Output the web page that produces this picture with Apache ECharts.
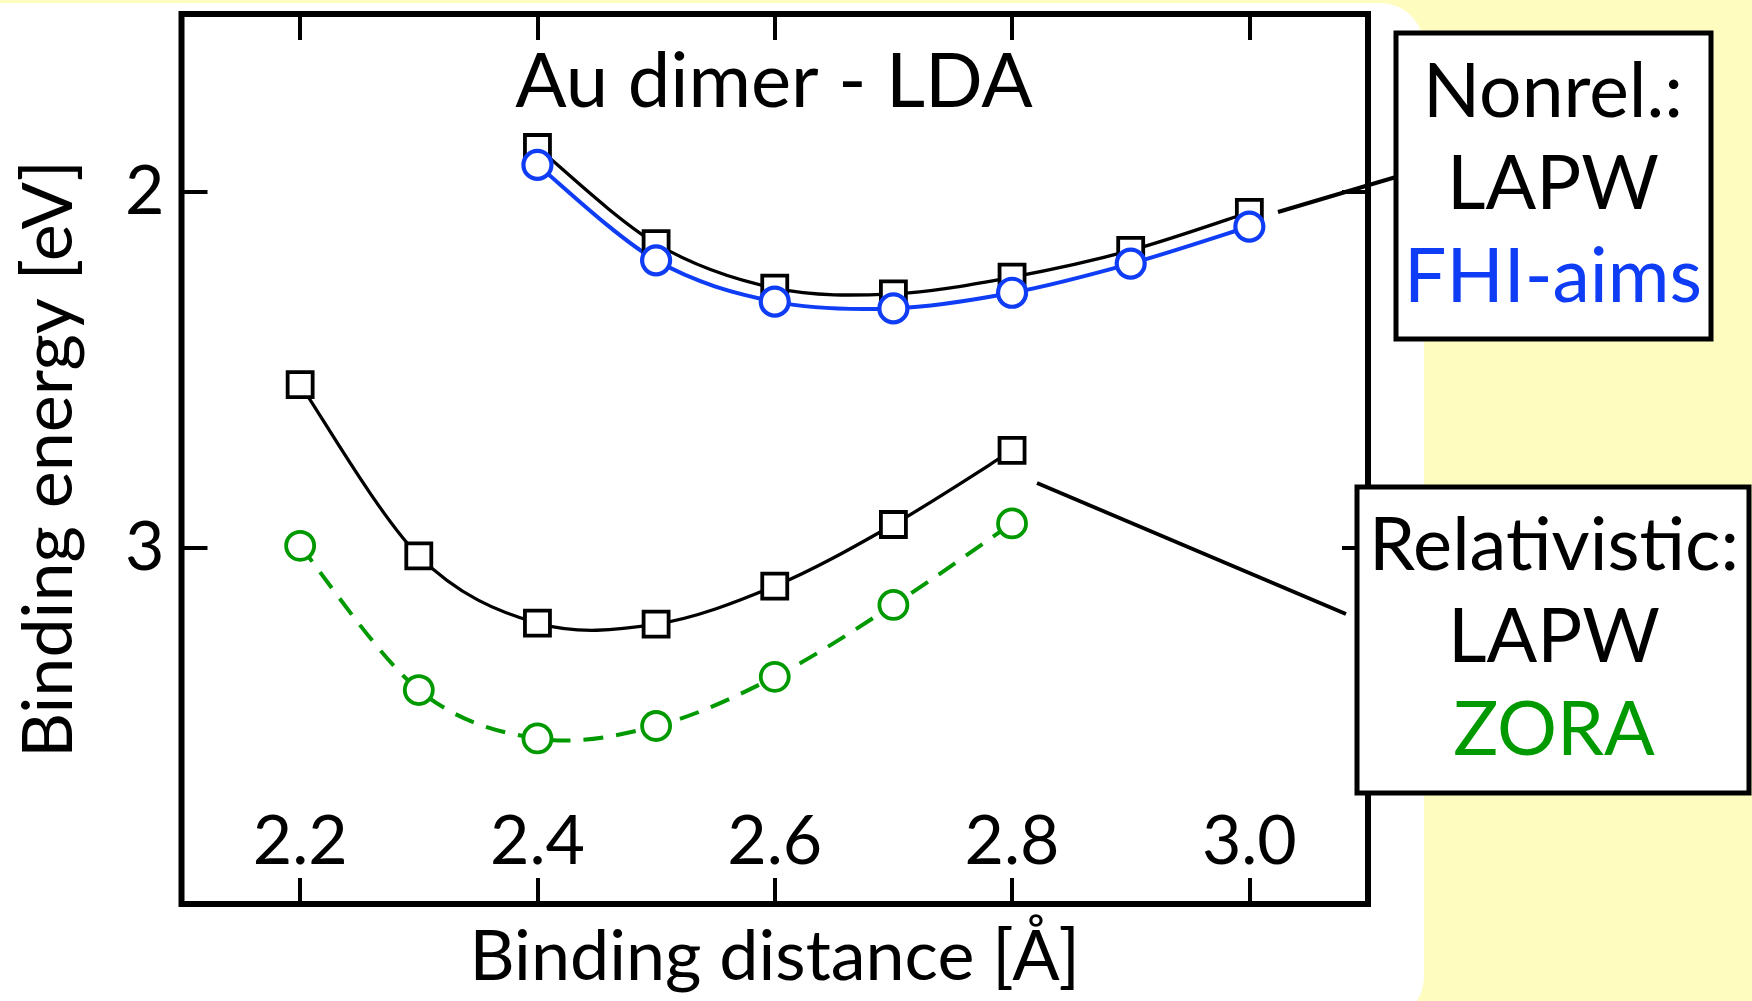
<!DOCTYPE html>
<html>
<head>
<meta charset="utf-8">
<script src="https://cdn.jsdelivr.net/npm/echarts@6/dist/echarts.min.js"></script>
<style>
  html, body { margin: 0; padding: 0; width: 1752px; height: 1001px; overflow: hidden; background: #fffcbf; }
  #panel { position: absolute; left: -60px; top: 3px; width: 1484px; height: 1018px; background: #ffffff; border-radius: 44px; }
  #chart { position: absolute; left: 0; top: 0; width: 1752px; height: 1001px; }
</style>
</head>
<body>
<div id="panel"></div>
<div id="chart"></div>
<script>
// ---- data ----
const distNonrel = [2.4, 2.5, 2.6, 2.7, 2.8, 2.9, 3.0];
const nonrelLAPW = [1.875, 2.145, 2.270, 2.286, 2.239, 2.164, 2.057];
const nonrelAims = [1.924, 2.192, 2.308, 2.327, 2.283, 2.201, 2.097];
const distRel = [2.2, 2.3, 2.4, 2.5, 2.6, 2.7, 2.8];
const relLAPW = [2.541, 3.022, 3.211, 3.214, 3.107, 2.934, 2.726];
const relZORA = [2.994, 3.399, 3.535, 3.500, 3.362, 3.160, 2.931];
const xTicks = [2.2, 2.4, 2.6, 2.8, 3.0];
const yTicks = [2, 3];
const titleText = 'Au dimer - LDA';
const xName = 'Binding distance [Å]';
const yName = 'Binding energy [eV]';

const FONT = 'Lato';
const BLUE = '#0f3cf5';
const GREEN = '#009a00';

function pairs(xs, ys) { return xs.map((x, i) => [x, ys[i]]); }

// smooth curve through the data points, positioned by the cartesian axes (api.coord)
function curveSeries(name, xs, ys, color, width, dash, z) {
  return {
    name: name, type: 'custom', coordinateSystem: 'cartesian2d', xAxisIndex: 0, yAxisIndex: 0,
    data: pairs(xs, ys), z: z, silent: true,
    renderItem: function (params, api) {
      if (params.dataIndex !== 0) return null;
      const pts = xs.map((x, i) => api.coord([x, ys[i]]));
      let d = 'M' + pts[0][0] + ',' + pts[0][1];
      for (let i = 0; i < pts.length - 1; i++) {
        const p0 = pts[i - 1] || pts[i], p1 = pts[i], p2 = pts[i + 1], p3 = pts[i + 2] || pts[i + 1];
        const c1 = [p1[0] + (p2[0] - p0[0]) / 6, p1[1] + (p2[1] - p0[1]) / 6];
        const c2 = [p2[0] - (p3[0] - p1[0]) / 6, p2[1] - (p3[1] - p1[1]) / 6];
        d += ' C' + c1[0] + ',' + c1[1] + ' ' + c2[0] + ',' + c2[1] + ' ' + p2[0] + ',' + p2[1];
      }
      return { type: 'path', shape: { pathData: d }, style: { fill: 'none', stroke: color, lineWidth: width, lineDash: dash || null } };
    }
  };
}

function markerSeries(name, xs, ys, symbol, size, color, bw, z) {
  return {
    name: name, type: 'scatter', data: pairs(xs, ys), symbol: symbol, symbolSize: size, z: z, silent: true,
    itemStyle: { color: '#fff', borderColor: color, borderWidth: bw, opacity: 1 }
  };
}

const chart = echarts.init(document.getElementById('chart'), null, { renderer: 'canvas' });

const tickStyle = { show: true, inside: true, length: 26, lineStyle: { color: '#000', width: 4 } };

const option = {
  backgroundColor: 'transparent',
  animation: false,
  grid: { left: 181.5, right: 384, top: 14, bottom: 97, show: true, borderColor: '#000', borderWidth: 6, backgroundColor: 'transparent' },
  xAxis: [
    {
      type: 'value', min: 2.1, max: 3.1, position: 'bottom',
      axisLine: { show: false },
      axisTick: Object.assign({ customValues: xTicks }, tickStyle),
      axisLabel: { inside: true, margin: 28, customValues: xTicks, formatter: v => Number(v).toFixed(1), fontFamily: FONT, fontSize: 68, color: '#000' },
      splitLine: { show: false },
      name: xName, nameLocation: 'middle', nameGap: 18,
      nameTextStyle: { fontFamily: FONT, fontSize: 70, color: '#000' }
    },
    {
      type: 'value', min: 2.1, max: 3.1, position: 'top',
      axisLine: { show: false },
      axisTick: Object.assign({ customValues: xTicks }, tickStyle),
      axisLabel: { show: false },
      splitLine: { show: false }
    }
  ],
  yAxis: [
    {
      type: 'value', min: 1.5, max: 4.0, inverse: true, position: 'left',
      axisLine: { show: false },
      axisTick: Object.assign({ customValues: yTicks }, tickStyle),
      axisLabel: { margin: 17, customValues: yTicks, fontFamily: FONT, fontSize: 68, color: '#000' },
      splitLine: { show: false },
      name: yName, nameLocation: 'middle', nameGap: 97, nameRotate: 90,
      nameTextStyle: { fontFamily: FONT, fontSize: 70, color: '#000' }
    },
    {
      type: 'value', min: 1.5, max: 4.0, inverse: true, position: 'right',
      axisLine: { show: false },
      axisTick: Object.assign({ customValues: yTicks }, tickStyle),
      axisLabel: { show: false },
      splitLine: { show: false }
    }
  ],
  series: [
    curveSeries('Rel LAPW curve', distRel, relLAPW, '#000', 3.3, null, 2),
    curveSeries('ZORA curve', distRel, relZORA, GREEN, 4, [20, 13], 2),
    curveSeries('Nonrel LAPW curve', distNonrel, nonrelLAPW, '#000', 3.3, null, 2),
    curveSeries('FHI-aims curve', distNonrel, nonrelAims, BLUE, 4, null, 3),
    markerSeries('Rel LAPW', distRel, relLAPW, 'rect', 25, '#000', 3.8, 5),
    markerSeries('ZORA', distRel, relZORA, 'circle', 28, GREEN, 3.8, 5),
    markerSeries('Nonrel LAPW', distNonrel, nonrelLAPW, 'rect', 25, '#000', 3.8, 5),
    markerSeries('FHI-aims', distNonrel, nonrelAims, 'circle', 28, BLUE, 4.2, 6)
  ],
  graphic: [
    { type: 'text', z: 100, x: 774, y: 82, style: { text: titleText, fontFamily: FONT, fontSize: 76, fill: '#000', align: 'center', verticalAlign: 'middle' } },
    // connector lines
    { type: 'line', z: 100, shape: { x1: 1278, y1: 212, x2: 1396, y2: 177 }, style: { stroke: '#000', lineWidth: 4 } },
    { type: 'line', z: 100, shape: { x1: 1037, y1: 483, x2: 1346, y2: 614 }, style: { stroke: '#000', lineWidth: 4 } },
    // box 1
    { type: 'rect', z: 101, shape: { x: 1396, y: 33, width: 315, height: 306 }, style: { fill: '#fff', stroke: '#000', lineWidth: 5 } },
    { type: 'text', z: 102, x: 1553, y: 92.5, style: { text: 'Nonrel.:', fontFamily: FONT, fontSize: 75, fill: '#000', align: 'center', verticalAlign: 'middle' } },
    { type: 'text', z: 102, x: 1553, y: 184.5, style: { text: 'LAPW', fontFamily: FONT, fontSize: 75, fill: '#000', align: 'center', verticalAlign: 'middle' } },
    { type: 'text', z: 102, x: 1553, y: 278, style: { text: 'FHI-aims', fontFamily: FONT, fontSize: 75, fill: BLUE, align: 'center', verticalAlign: 'middle' } },
    // box 2
    { type: 'rect', z: 101, shape: { x: 1357, y: 487, width: 392, height: 306 }, style: { fill: '#fff', stroke: '#000', lineWidth: 5 } },
    { type: 'text', z: 102, x: 1554, y: 546, style: { text: 'Relativistic:', fontFamily: FONT, fontSize: 74, fill: '#000', align: 'center', verticalAlign: 'middle' } },
    { type: 'text', z: 102, x: 1554, y: 638, style: { text: 'LAPW', fontFamily: FONT, fontSize: 75, fill: '#000', align: 'center', verticalAlign: 'middle' } },
    { type: 'text', z: 102, x: 1554, y: 731, style: { text: 'ZORA', fontFamily: FONT, fontSize: 75, fill: GREEN, align: 'center', verticalAlign: 'middle' } }
  ]
};
chart.setOption(option);
</script>
</body>
</html>
